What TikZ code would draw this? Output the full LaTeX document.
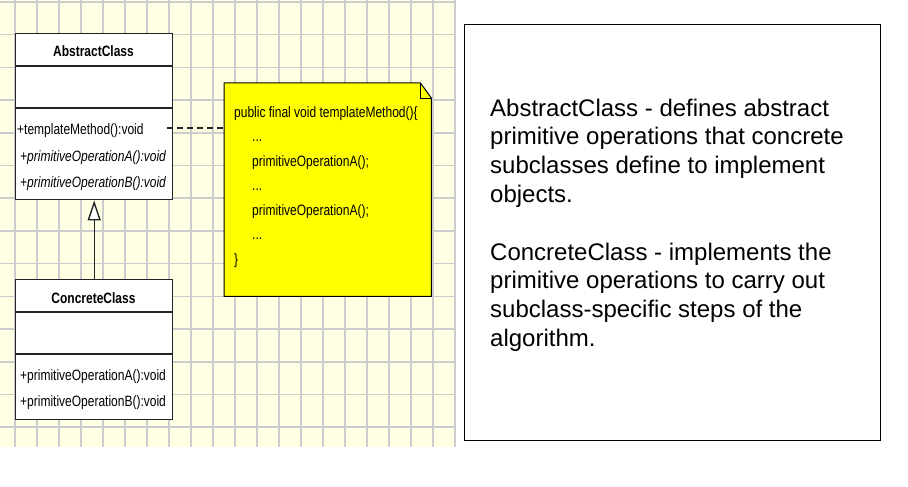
\documentclass[tikz,border=0pt]{standalone}
\usepackage{fontspec}
\setmainfont{Liberation Sans}
\newfontfamily\umlfont[FakeStretch=0.8]{Liberation Sans}
\usetikzlibrary{arrows.meta,calc}
\definecolor{gridbg}{RGB}{255,255,228}
\definecolor{gridline}{RGB}{204,204,204}
\definecolor{umlline}{RGB}{35,35,35}
\definecolor{noteyellow}{RGB}{255,255,0}
\tikzset{
  gridstroke/.style={draw=gridline, line width=1.6pt},
  classbox/.style={draw=umlline, line width=1.4pt, fill=white, rectangle, inner sep=0pt, anchor=north west},
  divider/.style={draw=umlline, line width=1.4pt},
  umltitle/.style={font=\umlfont\fontsize{15}{18}\selectfont\bfseries, anchor=base, inner sep=0pt},
  umlop/.style={font=\umlfont\fontsize{15}{18}\selectfont, anchor=base west, inner sep=0pt},
  umlabs/.style={font=\umlfont\fontsize{15}{18}\selectfont\itshape, anchor=base west, inner sep=0pt},
  notetext/.style={font=\umlfont\fontsize{15}{24.5}\selectfont, anchor=north west, inner sep=0pt, align=left},
  notelink/.style={draw=umlline, line width=1.2pt, dash pattern=on 6pt off 4pt},
  genlink/.style={draw=umlline, line width=1.4pt, -{Triangle[length=20pt, width=13pt, fill=white]}},
  descbox/.style={draw=black, line width=1.3pt, rectangle, inner sep=0pt, anchor=north west},
  desctext/.style={font=\fontsize{24}{28.8}\selectfont, anchor=north west, inner sep=0pt, align=left}
}
\begin{document}
\begin{tikzpicture}[x=1pt,y=-1pt]
\useasboundingbox (0,0) rectangle (908,487);
\fill[white] (0,0) rectangle (908,487);
% grid background
\fill[gridbg] (0,0) rectangle (455,447);
\foreach \i in {0,...,20} \draw[gridstroke] (15+22*\i,0) -- (15+22*\i,447);
\foreach \j in {0,...,13} \draw[gridstroke] (0,2+32.7*\j) -- (455,2+32.7*\j);

% AbstractClass
\node[classbox, minimum width=157pt, minimum height=166pt] (abs) at (15,33) {};
\draw[divider] ($(abs.north west)+(0,33)$) -- ($(abs.north east)+(0,33)$);
\draw[divider] ($(abs.north west)+(0,75)$) -- ($(abs.north east)+(0,75)$);
\node[umltitle] (absT) at (93.5,57) {AbstractClass};
\node[umlop] (absM) at (17,134) {+templateMethod():void};
\node[umlabs] (absA) at (20,161) {+primitiveOperationA():void};
\node[umlabs] (absB) at (20,187) {+primitiveOperationB():void};

% ConcreteClass
\node[classbox, minimum width=157pt, minimum height=140pt] (conc) at (15,279) {};
\draw[divider] ($(conc.north west)+(0,33)$) -- ($(conc.north east)+(0,33)$);
\draw[divider] ($(conc.north west)+(0,75)$) -- ($(conc.north east)+(0,75)$);
\node[umltitle] (concT) at (93.5,303) {ConcreteClass};
\node[umlop] (concA) at (20,380) {+primitiveOperationA():void};
\node[umlop] (concB) at (20,406) {+primitiveOperationB():void};

% generalization
\draw[genlink] (conc.north) -- (abs.south);

% note
\node[minimum width=207pt, minimum height=213pt, anchor=north west, inner sep=0pt] (note) at (224,83) {};
\draw[fill=noteyellow, draw=black, line width=1pt, line join=miter]
  (note.north west) -- ($(note.north east)+(-11,0)$) -- ($(note.north east)+(0,15)$)
  -- (note.south east) -- (note.south west) -- cycle;
\draw[black, line width=1pt] ($(note.north east)+(-11,0)$) -- ($(note.north east)+(-11,15)$) -- ($(note.north east)+(0,15)$);
\node[notetext] (noteT) at (234,106) {public final void templateMethod()\{\\
\hspace*{18pt}...\\
\hspace*{18pt}primitiveOperationA();\\
\hspace*{18pt}...\\
\hspace*{18pt}primitiveOperationA();\\
\hspace*{18pt}...\\
\}};

\coordinate (dstart) at (167,128);
\draw[notelink] (dstart) -- (dstart -| note.west);

% description
\node[descbox, minimum width=416pt, minimum height=416pt] (desc) at (464,24) {};
\node[desctext] (descT) at (490,98.5) {AbstractClass - defines abstract\\
primitive operations that concrete\\
subclasses define to implement\\
objects.\\[28.8pt]
ConcreteClass - implements the\\
primitive operations to carry out\\
subclass-specific steps of the\\
algorithm.};
\end{tikzpicture}
\end{document}
